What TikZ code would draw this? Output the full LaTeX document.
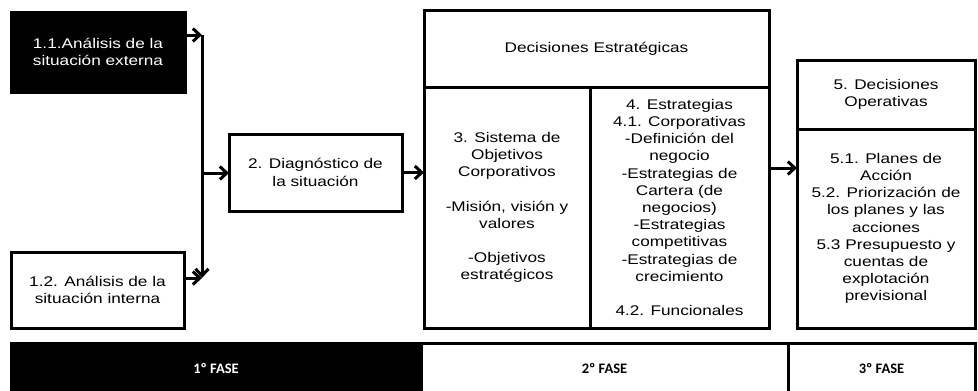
\documentclass[tikz,border=0pt]{standalone}
\usepackage{fontspec}
\setmainfont{Liberation Sans}[FakeStretch=1.23]
\newfontfamily\barfont{Carlito}
\usetikzlibrary{arrows.meta}

\tikzset{
  box/.style={draw, line width=3pt, inner sep=0pt, outer sep=0pt,
              align=center, font=\fontsize{14}{17.2}\selectfont},
  fase/.style={draw, line width=3pt, inner sep=0pt, outer sep=0pt,
               minimum height=52pt, font=\barfont\bfseries\fontsize{14.5}{16}\selectfont},
  arr/.style={->, >={Straight Barb[length=7pt, width=13pt]}, line width=3pt}
}

\begin{document}
\begin{tikzpicture}[x=1pt, y=-1pt]
\useasboundingbox (0,0) rectangle (978,391);
        % Draw the boxes
        \node[box, fill=black, text=white, minimum width=174pt, minimum height=80pt]
            at (98, 52)      (ext)    {1.1.Análisis de la\\situación externa};
        \node[box, minimum width=173pt, minimum height=76pt]
            at (97.5, 290)   (int)    {1.2. Análisis de la\\situación interna};
        \node[box, minimum width=173pt, minimum height=77pt]
            at (315.5, 172.5) (diag)  {2. Diagnóstico de\\la situación};
        \node[box, minimum width=345pt, minimum height=77pt]
            at (596.5, 48.5) (head)   {Decisiones Estratégicas};
        \node[box, minimum width=166pt, minimum height=241pt]
            at (507, 207.5)  (sys)    {3. Sistema de\\Objetivos\\Corporativos\\[17.2pt]-Misión, visión y\\valores\\[17.2pt]-Objetivos\\estratégicos};
        \node[box, minimum width=179pt, minimum height=241pt]
            at (679.5, 207.5) (est)   {4. Estrategias\\4.1. Corporativas\\-Definición del\\negocio\\-Estrategias de\\Cartera (de\\negocios)\\-Estrategias\\competitivas\\-Estrategias de\\crecimiento\\[17.2pt]4.2. Funcionales};
        \node[box, minimum width=178pt, minimum height=69pt]
            at (886, 94.5)   (ophead) {5. Decisiones\\Operativas};
        \node[box, minimum width=178pt, minimum height=199pt]
            at (886, 228.5)  (opbody) {5.1. Planes de\\Acción\\5.2. Priorización de\\los planes y las\\acciones\\5.3 Presupuesto y\\cuentas de\\explotación\\previsional};
        % Phase bar
        \node[fase, fill=black, text=white, minimum width=410pt] at (216, 369)   (f1) {1º FASE};
        \node[fase, minimum width=367pt]                          at (604.5, 369) (f2) {2º FASE};
        \node[fase, minimum width=187pt]                          at (881.5, 369) (f3) {3º FASE};
        % Connect the boxes with arrows
        \coordinate (top)  at (202, 35);
        \coordinate (bot)  at (202, 278);
        \coordinate (mid)  at (202, 173);
        \coordinate (opin) at (783, 168);
        \draw[arr] (ext.east |- top) -- (top);
        \draw[arr] (top) -- (bot);
        \draw[arr] (int.east |- bot) -- (bot);
        \draw[arr] (mid) -- (diag.west |- mid);
        \draw[arr] (diag.east) -- (diag.east -| sys.west);
        \draw[arr] (est.east |- opin) -- (opbody.west |- opin);
\end{tikzpicture}
\end{document}
